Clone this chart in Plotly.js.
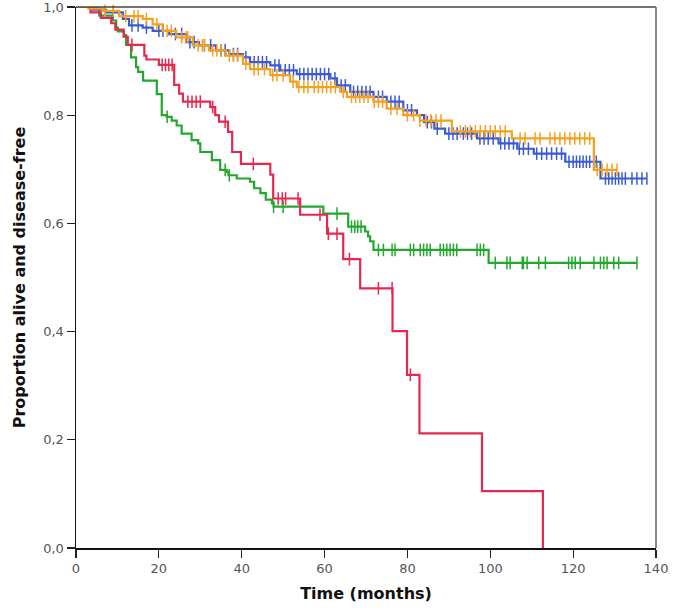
<!DOCTYPE html>
<html>
<head>
<meta charset="utf-8">
<script src="https://cdn.plot.ly/plotly-3.0.1.min.js"></script>
<style>html,body{margin:0;padding:0;background:#fff;}#chart{width:675px;height:610px;}</style>
</head>
<body>
<div id="chart"></div>
<script>
// ---- Data ----
const xTicks = [0, 20, 40, 60, 80, 100, 120, 140];
const yTicks = [0, 0.2, 0.4, 0.6, 0.8, 1.0];
const xTitle = 'Time (months)';
const yTitle = 'Proportion alive and disease-free';

// Blue group
const blueTime = [0,4,7.2,11.3,12.8,16.1,18.5,22.5,26.6,29.7,33.8,37,40.3,42,46.9,49.3,53.3,61.4,63,66.2,71.8,75,79,82.3,84,86.5,89.1,96.8,102,106.5,110.5,118.1,126.6,137.8];
const blueSurv = [1,0.995,0.99,0.978,0.966,0.962,0.956,0.95,0.935,0.929,0.92,0.913,0.907,0.898,0.892,0.883,0.876,0.868,0.855,0.843,0.834,0.825,0.809,0.8,0.787,0.775,0.766,0.757,0.748,0.738,0.729,0.714,0.683,0.683];
const blueCensor = [9,13.5,15,17,20,21,24,25.5,27.5,28.5,31,32.5,35,36,38,39,41,43,44,45,46,48,49,50.5,51.5,52.5,54,55,56,57,58,59,60,61,62.5,64,65,67,68,69,70,71,73,74,76,77,78,80,81,84.8,85.8,87.2,90,91,92,93.5,94.5,95.5,97.5,98.5,99.5,100.7,102.5,103.5,104.5,105.6,107,108,109.2,111.2,112.4,113.6,114.8,116,117.2,119,120,120.8,121.6,122.4,123.2,124,125.6,127.8,128.6,129.4,130.2,131,131.8,132.6,134.2,135.4,136.6,137.8];

// Orange group
const orangeTime = [0,3,6.4,10.4,16.1,18.5,20.9,24.2,28.2,32.1,36.2,40.3,42,46.9,51.7,53.3,63.8,65.4,71.8,75,79,83,90.7,105.2,125,130.6];
const orangeSurv = [1,0.997,0.993,0.983,0.978,0.968,0.956,0.944,0.929,0.92,0.91,0.895,0.885,0.874,0.862,0.852,0.843,0.834,0.825,0.812,0.8,0.79,0.77,0.757,0.699,0.699];
const orangeCensor = [7,9,12,14,15,17,19.5,22,23,25.5,26.5,27,29.5,30.5,31,33,34,35,37,38,39,41,43,44,45.5,47.5,48.5,50,52.4,53.8,55,56,57.5,58.5,59.5,60.5,61.5,62.6,64.5,66.5,67.5,68.5,69.5,70.5,72,73,74,76,77.5,80,81.5,83,84.5,85.7,86.9,88.1,92.8,94,95.2,96.4,97.6,98.8,100,101.2,102.4,103.6,107.2,108.4,110.8,112,114.4,115.6,116.8,118,119.2,120.4,121.6,122.8,124,125.8,127,128.2,129.4,130.6];

// Green group
const greenTime = [0,5.6,8.9,9.7,10.1,11.6,12.1,13.3,14.5,15,16.2,19.5,20.7,21.9,23.1,24.3,25.5,27.9,29.5,30,32.8,34.8,36.4,36.8,38.8,42,43,44.5,45.8,47.3,47.7,59.7,65.7,69.8,70.5,71,71.8,99.6,135.4];
const greenSurv = [1,0.984,0.975,0.962,0.955,0.948,0.93,0.907,0.889,0.88,0.864,0.839,0.8,0.797,0.79,0.781,0.766,0.754,0.748,0.732,0.717,0.699,0.695,0.689,0.683,0.677,0.665,0.656,0.644,0.637,0.631,0.618,0.594,0.585,0.576,0.567,0.551,0.527,0.527];
const greenCensor = [22,36,37,47.7,50,63,66.5,67.3,68,68.8,73,74.2,76.3,77,80.7,81.5,83.1,83.9,84.7,85.5,87.9,88.7,89.5,90.3,91.1,91.9,96.8,97.6,98.4,101.2,104,104.8,107.7,108,108.9,111.7,113.3,118.9,119.7,120.5,121.7,125,126.6,127.4,128.2,129.8,131,135.4];

// Red group
const redTime = [0,3.5,6,8.5,9.5,11.5,12.5,16.5,17,20,23.7,24.9,25.8,32.4,33.6,34.5,36.7,37.7,39.8,46.9,47.6,54.1,60.6,64.5,68.6,76.4,79.9,82.9,98,112.7];
const redSurv = [1,0.99,0.98,0.97,0.958,0.945,0.93,0.91,0.903,0.893,0.856,0.84,0.825,0.815,0.8,0.788,0.769,0.732,0.71,0.69,0.646,0.616,0.581,0.534,0.48,0.401,0.32,0.212,0.105,0];
const redCensor = [13.5,20.8,21.6,22.4,23.2,27,28,29,30,33,36,42.8,48.8,49.8,50.6,53.6,58.9,60.9,63,66,73,76.3,80.7];

// ---- Styling ----
const colors = {blue:'#3a5ad8', orange:'#f5a01e', green:'#22a82c', red:'#e5284f'};

function stepAt(times, surv, t) {
  let v = surv[0];
  for (let i = 0; i < times.length; i++) { if (times[i] <= t) v = surv[i]; else break; }
  return v;
}

function curve(times, surv, color) {
  return {x: times, y: surv, type:'scatter', mode:'lines', line:{shape:'hv', color:color, width:2.2}, hoverinfo:'skip', showlegend:false};
}
function censors(times, surv, cens, color) {
  return {x: cens, y: cens.map(t => stepAt(times, surv, t)), type:'scatter', mode:'markers',
    marker:{symbol:'line-ns', size:9, color:color, line:{color:color, width:1.5}}, hoverinfo:'skip', showlegend:false, cliponaxis:false};
}

const data = [
  curve(greenTime, greenSurv, colors.green), censors(greenTime, greenSurv, greenCensor, colors.green),
  curve(redTime, redSurv, colors.red), censors(redTime, redSurv, redCensor, colors.red),
  curve(blueTime, blueSurv, colors.blue), censors(blueTime, blueSurv, blueCensor, colors.blue),
  curve(orangeTime, orangeSurv, colors.orange), censors(orangeTime, orangeSurv, orangeCensor, colors.orange)
];

const tickFont = {family:'DejaVu Sans, Verdana, sans-serif', size:13, color:'#555'};
const titleFont = {family:'DejaVu Sans, Verdana, sans-serif', size:16, color:'#111'};

const layout = {
  width:675, height:610,
  margin:{l:76, r:19, t:7, b:62},
  paper_bgcolor:'#fff', plot_bgcolor:'#fff',
  separators:',.',
  hovermode:false,
  xaxis:{range:[0,140], tickvals:xTicks, ticks:'outside', ticklen:8, tickwidth:1.2, tickcolor:'#222',
    showline:true, linecolor:'#111', linewidth:1.5, showgrid:false, zeroline:false, tickfont:tickFont,
    ticklabeloverflow:'allow',
    title:{text:'<b>'+xTitle+'</b>', font:titleFont, standoff:12}},
  yaxis:{range:[0,1], tickvals:yTicks, tickformat:'.1f', ticks:'outside', ticklen:8, tickwidth:1.2, tickcolor:'#222',
    showline:true, linecolor:'#111', linewidth:1.5, showgrid:false, zeroline:false, tickfont:tickFont,
    ticklabeloverflow:'allow',
    title:{text:'<b>'+yTitle+'</b>', font:titleFont, standoff:13}},
  shapes:[
    {type:'line', xref:'paper', yref:'paper', x0:0, x1:1, y0:1, y1:1, line:{color:'#444', width:1.5}},
    {type:'line', xref:'paper', yref:'paper', x0:1, x1:1, y0:0, y1:1, line:{color:'#888', width:2}}
  ]
};

Plotly.newPlot('chart', data, layout, {displayModeBar:false, staticPlot:true});
</script>
</body>
</html>
